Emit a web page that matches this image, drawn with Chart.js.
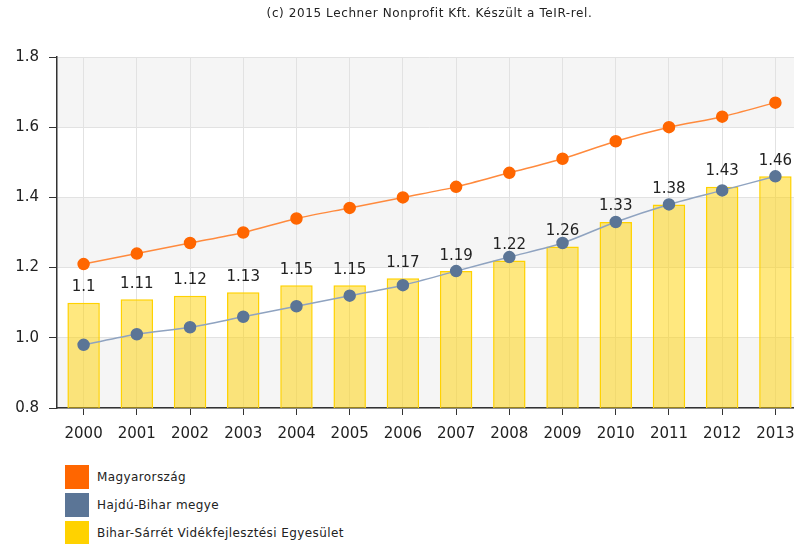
<!DOCTYPE html>
<html>
<head>
<meta charset="utf-8">
<script src="https://cdn.jsdelivr.net/npm/chart.js@4.4.1/dist/chart.umd.min.js"></script>
<style>
  body { margin: 0; background: #fff; overflow: hidden; width: 794px; height: 544px; font-family: "DejaVu Sans", Verdana, sans-serif; position: relative; }
  #clip { position: absolute; left: 0; top: 0; width: 794px; height: 456px; overflow: hidden; }
  #chart { display: block; }
  #title { position: absolute; left: 65px; width: 729px; top: 6px; text-align: center; font-size: 12px; letter-spacing: 0.6px; color: #222; white-space: nowrap; }
  #legend { position: absolute; left: 65px; top: 465px; }
  .item { height: 24px; margin-bottom: 4px; display: flex; align-items: center; font-size: 12px; letter-spacing: 0.4px; color: #222; }
  .box { width: 24px; height: 24px; margin-right: 8px; box-sizing: border-box; }
</style>
</head>
<body>
<div id="clip"><canvas id="chart" width="802" height="456"></canvas></div>
<div id="title"></div>
<div id="legend"></div>
<script>
const years = ['2000', '2001', '2002', '2003', '2004', '2005', '2006', '2007', '2008', '2009', '2010', '2011', '2012', '2013'];
const hungary = [1.21, 1.24, 1.27, 1.30, 1.34, 1.37, 1.40, 1.43, 1.47, 1.51, 1.56, 1.60, 1.63, 1.67];
const hajduBihar = [0.98, 1.01, 1.03, 1.06, 1.09, 1.12, 1.15, 1.19, 1.23, 1.27, 1.33, 1.38, 1.42, 1.46];
const biharSarret = [1.1, 1.11, 1.12, 1.13, 1.15, 1.15, 1.17, 1.19, 1.22, 1.26, 1.33, 1.38, 1.43, 1.46];
const seriesNames = ['Magyarország', 'Hajdú-Bihar megye', 'Bihar-Sárrét Vidékfejlesztési Egyesület'];
const seriesColors = ['#ff6600', '#5b7596', '#ffd200'];
const yMin = 0.8, yMax = 1.8, yStep = 0.2;
const titleText = '(c) 2015 Lechner Nonprofit Kft. Készült a TeIR-rel.';

document.getElementById('title').textContent = titleText;

// alternating grey / white bands behind the plot
const bands = {
  id: 'bands',
  beforeDraw(chart) {
    const { ctx, chartArea: a, scales: { y } } = chart;
    const ticks = y.ticks;
    ctx.save();
    for (let i = 0; i < ticks.length - 1; i++) {
      if (i % 2 !== 0) continue;
      const y0 = y.getPixelForValue(ticks[i].value);
      const y1 = y.getPixelForValue(ticks[i + 1].value);
      ctx.fillStyle = '#f5f5f5';
      ctx.fillRect(a.left, y1, a.right - a.left, y0 - y1);
    }
    ctx.restore();
  }
};

// value labels above the bars
const barLabels = {
  id: 'barLabels',
  afterDatasetsDraw(chart) {
    const { ctx } = chart;
    const meta = chart.getDatasetMeta(2);
    ctx.save();
    ctx.font = '15px "DejaVu Sans", Verdana, sans-serif';
    ctx.fillStyle = '#222';
    ctx.textAlign = 'center';
    ctx.textBaseline = 'bottom';
    meta.data.forEach((bar, i) => {
      ctx.fillText(String(biharSarret[i]), bar.x, bar.y - 8);
    });
    ctx.restore();
  }
};

const ctx = document.getElementById('chart').getContext('2d');

const chart = new Chart(ctx, {
  type: 'bar',
  data: {
    labels: years,
    datasets: [{
      type: 'line',
      label: seriesNames[0],
      data: hungary,
      borderColor: '#ff8a3d',
      borderWidth: 1.5,
      backgroundColor: seriesColors[0],
      pointBackgroundColor: seriesColors[0],
      pointBorderColor: seriesColors[0],
      pointRadius: 5.5,
      tension: 0.3,
      order: 1
    }, {
      type: 'line',
      label: seriesNames[1],
      data: hajduBihar,
      borderColor: '#8fa3c0',
      borderWidth: 1.5,
      backgroundColor: seriesColors[1],
      pointBackgroundColor: seriesColors[1],
      pointBorderColor: seriesColors[1],
      pointRadius: 5.5,
      tension: 0.3,
      order: 2
    }, {
      label: seriesNames[2],
      data: biharSarret,
      backgroundColor: 'rgba(255, 210, 0, 0.5)',
      borderColor: '#ffd200',
      borderWidth: 1.5,
      barPercentage: 0.61,
      categoryPercentage: 1,
      order: 3
    }]
  },
  options: {
    responsive: false,
    animation: false,
    // no extra room for the point markers: the plot runs to the canvas edge
    layout: { autoPadding: false, padding: { top: 57, right: 0, bottom: 0, left: 0 } },
    plugins: {
      legend: { display: false },
      tooltip: { enabled: false },
      title: { display: false }
    },
    scales: {
      x: {
        grid: { offset: false, color: '#e2e2e2', tickColor: '#333', tickLength: 7 },
        border: { color: '#333', width: 1.5 },
        ticks: {
          color: '#222',
          padding: 10,
          maxRotation: 0,
          font: { family: '"DejaVu Sans", Verdana, sans-serif', size: 15 }
        },
        afterFit(s) {
          s.height = 48;
          s.paddingLeft = 0;
          s.paddingRight = 0;
        }
      },
      y: {
        min: yMin,
        max: yMax,
        grid: { color: '#e2e2e2', tickColor: '#333', tickLength: 8 },
        border: { color: '#333', width: 1.5 },
        ticks: {
          stepSize: yStep,
          color: '#222',
          padding: 10,
          font: { family: '"DejaVu Sans", Verdana, sans-serif', size: 15 },
          callback: v => v.toFixed(1)
        },
        afterFit(s) { s.width = 57; }
      }
    }
  },
  plugins: [bands, barLabels]
});

// vertical legend under the chart
const legend = document.getElementById('legend');
seriesNames.forEach((name, i) => {
  const item = document.createElement('div');
  item.className = 'item';
  const box = document.createElement('div');
  box.className = 'box';
  box.style.background = seriesColors[i];
  const label = document.createElement('span');
  label.textContent = name;
  item.appendChild(box);
  item.appendChild(label);
  legend.appendChild(item);
});
</script>
</body>
</html>
